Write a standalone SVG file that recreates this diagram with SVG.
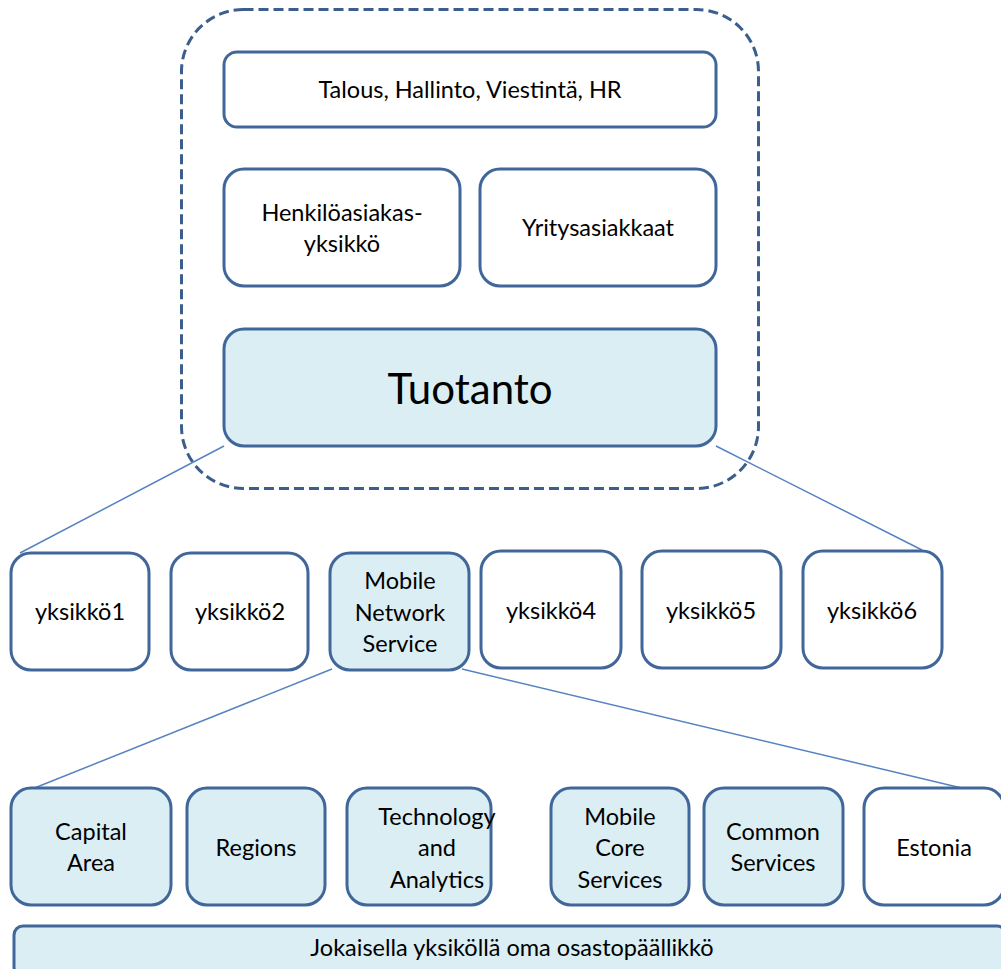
<svg xmlns="http://www.w3.org/2000/svg" width="1001" height="969" viewBox="0 0 1001 969">
<style>
.box{fill:#ffffff;stroke:#41679A;stroke-width:3}
.blue{fill:#DAEEF3;stroke:#41679A;stroke-width:3}
.t{font-family:Lato,"Open Sans","Liberation Sans",sans-serif;font-size:23.5px;fill:#000;text-anchor:middle;dominant-baseline:central}
.big{font-size:42px}
.conn{stroke:#5583C2;stroke-width:1.5;fill:none}
</style>
<rect width="1001" height="969" fill="#ffffff"/>
<g id="container">
<rect x="181.5" y="9.5" width="577" height="479" rx="62" fill="none" stroke="#3B5E8C" stroke-width="3" stroke-dasharray="10 5"/>
</g>
<g id="connectors">
<line class="conn" x1="224" y1="446" x2="20" y2="553"/>
<line class="conn" x1="716" y1="446" x2="922" y2="550"/>
<line class="conn" x1="332" y1="669" x2="32" y2="789"/>
<line class="conn" x1="462" y1="669" x2="970" y2="790"/>
</g>
<g id="n-talous"><rect class="box" x="224" y="52" width="492" height="75" rx="13"/><text class="t" x="470" y="89">Talous, Hallinto, Viestintä, HR</text></g>
<g id="n-henkilo"><rect class="box" x="224" y="169" width="236" height="117" rx="20"/><text class="t" x="342" y="212">Henkilöasiakas-</text><text class="t" x="342" y="243">yksikkö</text></g>
<g id="n-yritys"><rect class="box" x="480" y="169" width="236" height="117" rx="20"/><text class="t" x="598" y="227">Yritysasiakkaat</text></g>
<g id="n-tuotanto"><rect class="blue" x="224" y="329" width="492" height="117" rx="20"/><text class="t big" x="470" y="388">Tuotanto</text></g>
<g id="n-y1"><rect class="box" x="11" y="553" width="138" height="117" rx="20"/><text class="t" x="80" y="611">yksikkö1</text></g>
<g id="n-y2"><rect class="box" x="171" y="553" width="137" height="117" rx="20"/><text class="t" x="240" y="611">yksikkö2</text></g>
<g id="n-mns"><rect class="blue" x="330" y="553" width="139" height="117" rx="20"/><text class="t" x="400" y="580">Mobile</text><text class="t" x="400" y="612">Network</text><text class="t" x="400" y="643">Service</text></g>
<g id="n-y4"><rect class="box" x="481" y="551" width="140" height="117" rx="20"/><text class="t" x="551" y="610">yksikkö4</text></g>
<g id="n-y5"><rect class="box" x="642" y="551" width="139" height="117" rx="20"/><text class="t" x="711" y="610">yksikkö5</text></g>
<g id="n-y6"><rect class="box" x="803" y="551" width="139" height="117" rx="20"/><text class="t" x="872" y="610">yksikkö6</text></g>
<g id="n-capital"><rect class="blue" x="11" y="788" width="160" height="117" rx="20"/><text class="t" x="91" y="831">Capital</text><text class="t" x="91" y="862">Area</text></g>
<g id="n-regions"><rect class="blue" x="187" y="788" width="138" height="117" rx="20"/><text class="t" x="256" y="847">Regions</text></g>
<g id="n-tech"><rect class="blue" x="347" y="788" width="144" height="117" rx="20"/><text class="t" x="437" y="816">Technology</text><text class="t" x="437" y="847">and</text><text class="t" x="437" y="879">Analytics</text></g>
<g id="n-mcs"><rect class="blue" x="551" y="788" width="138" height="117" rx="20"/><text class="t" x="620" y="816">Mobile</text><text class="t" x="620" y="847">Core</text><text class="t" x="620" y="879">Services</text></g>
<g id="n-common"><rect class="blue" x="704" y="788" width="139" height="117" rx="20"/><text class="t" x="773" y="831">Common</text><text class="t" x="773" y="862">Services</text></g>
<g id="n-estonia"><rect class="box" x="864" y="788" width="140" height="117" rx="20"/><text class="t" x="934" y="847">Estonia</text></g>
<g id="n-bottom"><rect class="blue" x="14" y="926" width="992" height="50" rx="9"/><text class="t" x="512" y="947">Jokaisella yksiköllä oma osastopäällikkö</text></g>
</svg>
